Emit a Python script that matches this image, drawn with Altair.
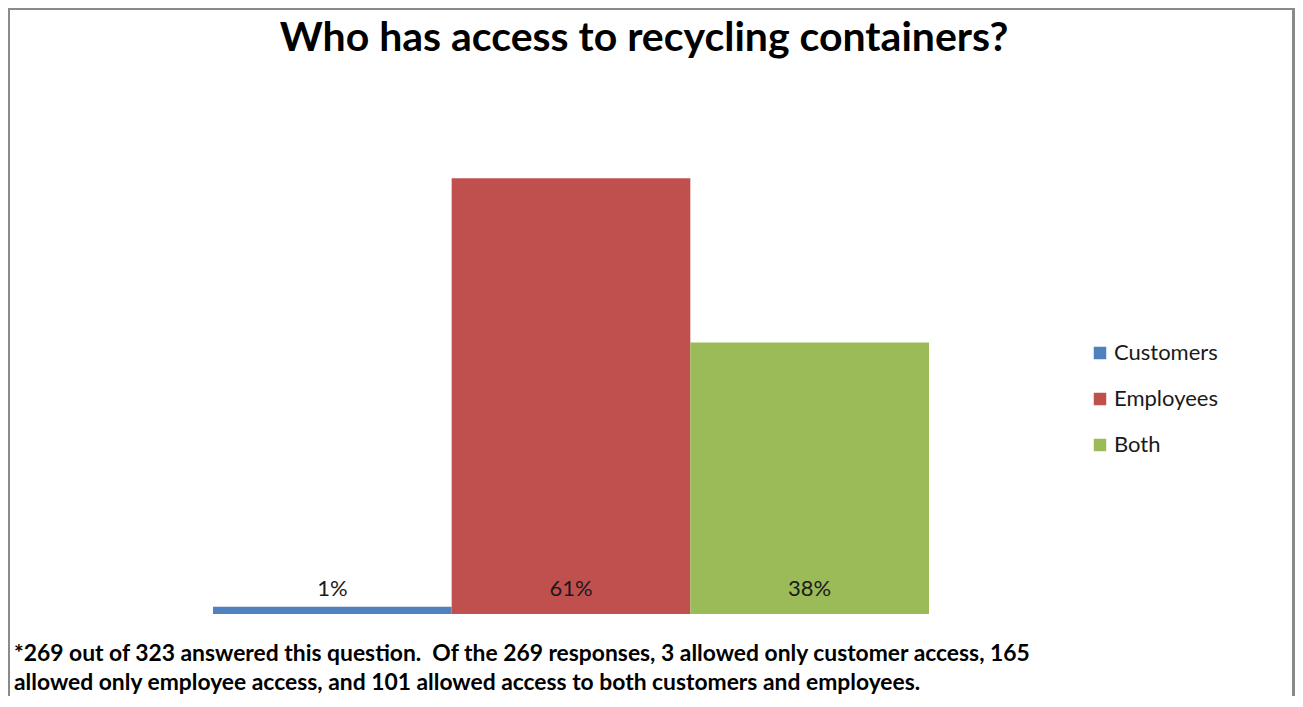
import altair as alt
import pandas as pd

# Data
categories = ["Customers", "Employees", "Both"]
percentages = [1, 61, 38]
bar_labels = ["1%", "61%", "38%"]
colors = ["#4F81BD", "#C0504D", "#9BBB59"]

title_text = "Who has access to recycling containers?"
footnote_lines = [
    "*269 out of 323 answered this question.\u00a0 Of the 269 responses, 3 allowed only customer access, 165",
    "allowed only employee access, and 101 allowed access to both customers and employees.",
]

df = pd.DataFrame({"category": categories, "pct": percentages, "label": bar_labels})

FONT = "Lato"

x_enc = alt.X("category:N", sort=categories, axis=None,
              scale=alt.Scale(paddingInner=0, paddingOuter=0))
y_scale = alt.Scale(domain=[0, 70])

bars = alt.Chart(df).mark_bar().encode(
    x=x_enc,
    y=alt.Y("pct:Q", axis=None, scale=y_scale),
    color=alt.Color(
        "category:N",
        sort=categories,
        scale=alt.Scale(domain=categories, range=colors),
        legend=alt.Legend(
            title=None,
            orient="none",
            legendX=876,
            legendY=228,
            symbolType="square",
            symbolSize=156,
            symbolStrokeWidth=0,
            labelFont=FONT,
            labelFontSize=22,
            labelColor="#1a1a1a",
            labelOffset=3,
            rowPadding=24,
        ),
    ),
)

labels = alt.Chart(df).mark_text(
    font=FONT, fontSize=22, color="#1a1a1a", baseline="middle", dy=-25
).encode(
    x=x_enc,
    y=alt.datum(0, scale=y_scale),
    text="label:N",
)

footnote = alt.Chart(pd.DataFrame({"t": ["\n".join(footnote_lines)]})).mark_text(
    font=FONT, fontSize=22.85, fontWeight="bold", color="#000000",
    align="left", baseline="alphabetic", lineBreak="\n", lineHeight=29,
).encode(
    x=alt.value(-199),
    y=alt.value(547),
    text="t:N",
)

frame = alt.Chart(pd.DataFrame({"a": [1]})).mark_rect(
    fillOpacity=0, stroke="#8a8a8a", strokeWidth=3
).encode(
    x=alt.value(-204.5),
    x2=alt.value(1080.5),
    y=alt.value(-105.5),
    y2=alt.value(700),
)

chart = alt.layer(frame, bars, labels, footnote).properties(
    width=716,
    height=500,
    background="#ffffff",
    autosize=alt.AutoSizeParams(type="none"),
    padding={"left": 205, "top": 106, "right": 366, "bottom": 82},
    title=alt.TitleParams(
        title_text,
        font=FONT,
        fontSize=41,
        fontWeight="bold",
        color="#000000",
        anchor="middle",
        frame="group",
        baseline="alphabetic",
        offset=0,
        dx=73,
        dy=85,
    ),
).configure_view(strokeWidth=0, stroke=None)

chart.save("out.html", embed_options={"renderer": "svg", "actions": False})
